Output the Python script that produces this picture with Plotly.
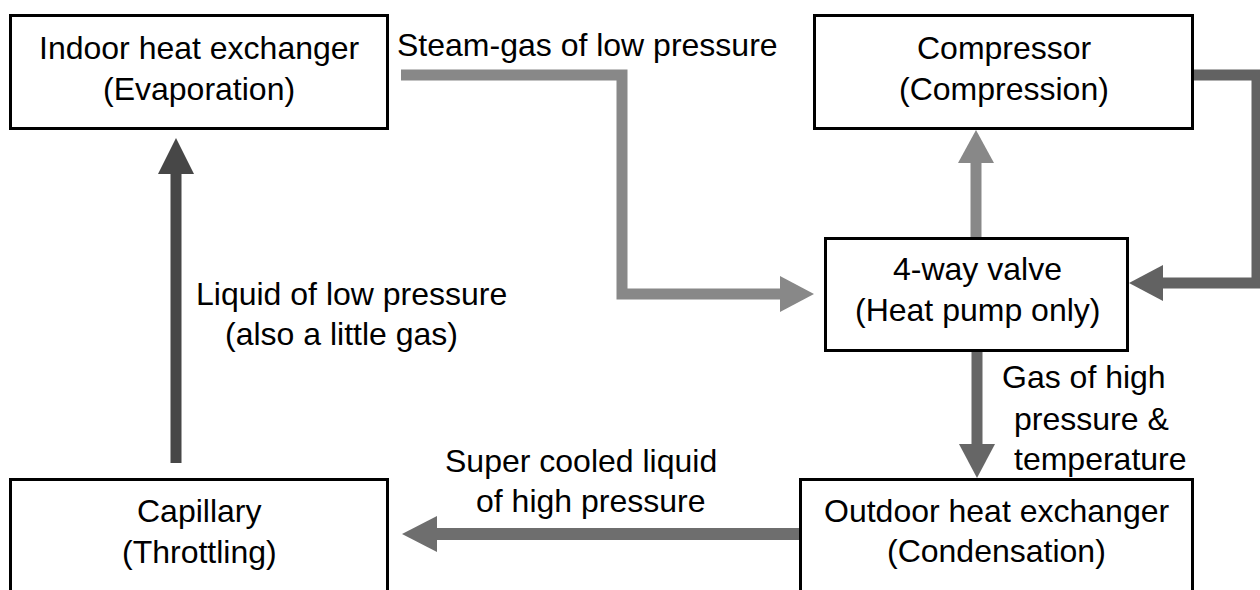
import plotly.graph_objects as go

# ---- text content (data) ----
box_titles = ["Indoor heat exchanger", "Compressor", "4-way valve", "Capillary", "Outdoor heat exchanger"]
box_subtitles = ["(Evaporation)", "(Compression)", "(Heat pump only)", "(Throttling)", "(Condensation)"]
flow_labels = [
    ["Steam-gas of low pressure"],
    ["Liquid of low pressure", "(also a little gas)"],
    ["Gas of high", "pressure &", "temperature"],
    ["Super cooled liquid", "of high pressure"],
]

# ---- layout geometry (pixels, y downward) ----
W, H = 1260, 590
FS = 32
FONT = "Liberation Sans, Arial, sans-serif"

box_rects = [  # x0, y0, x1, y1 (stroke centre lines)
    (10.5, 15.5, 387.5, 128.5),
    (814.5, 15.5, 1192.5, 128.5),
    (825.5, 238.5, 1127.5, 350.5),
    (10.5, 479.5, 387.5, 640),
    (800.5, 479.5, 1192.5, 640),
]
box_text_pos = [  # centre x, baseline line1, baseline line2
    (199, 59, 100),
    (1004, 59, 100),
    (977, 280, 321),
    (199, 522, 563),
    (996, 522, 562),
]
flow_text_pos = [
    [(587.5, 56)],
    [(351, 305), (341, 345)],
    [(1084, 388), (1091, 430), (1100, 470)],
    [(581, 472), (590, 512)],
]

# arrows: polyline points (shaft), arrow head (base centre -> tip), colour, width
arrows = [
    dict(pts=[(401, 75), (622, 75), (622, 294), (780, 294)], tip=(814, 294), color="#888888", w=11),
    dict(pts=[(976, 237), (976, 163)], tip=(976, 130), color="#888888", w=11),
    dict(pts=[(1193, 75), (1257, 75), (1257, 283), (1163, 283)], tip=(1129, 283), color="#626262", w=11),
    dict(pts=[(977, 352), (977, 444)], tip=(977, 478), color="#666666", w=11),
    dict(pts=[(800, 534), (437, 534)], tip=(402, 534), color="#6e6e6e", w=12),
    dict(pts=[(176, 463), (176, 174)], tip=(176, 138), color="#474747", w=11),
]
HEAD_HALF = 18

shapes = []
for (x0, y0, x1, y1) in box_rects:
    shapes.append(dict(type="rect", xref="x", yref="y", x0=x0, y0=y0, x1=x1, y1=y1,
                       line=dict(color="black", width=3), fillcolor="rgba(0,0,0,0)", layer="above"))

for a in arrows:
    pts = a["pts"]
    path = "M " + " L ".join(f"{x},{y}" for x, y in pts)
    shapes.append(dict(type="path", xref="x", yref="y", path=path,
                       line=dict(color=a["color"], width=a["w"]), layer="below"))
    bx, by = pts[-1]
    tx, ty = a["tip"]
    if bx == tx:  # vertical head
        p1 = (bx - HEAD_HALF, by); p2 = (bx + HEAD_HALF, by)
    else:
        p1 = (bx, by - HEAD_HALF); p2 = (bx, by + HEAD_HALF)
    hp = f"M {p1[0]},{p1[1]} L {tx},{ty} L {p2[0]},{p2[1]} Z"
    shapes.append(dict(type="path", xref="x", yref="y", path=hp,
                       line=dict(color=a["color"], width=0), fillcolor=a["color"], layer="below"))

annotations = []
def add_text(txt, cx, baseline):
    annotations.append(dict(x=cx, y=baseline - 11, xref="x", yref="y", text=txt, showarrow=False,
                            xanchor="center", yanchor="middle",
                            font=dict(family=FONT, size=FS, color="black")))

for t, s, (cx, b1, b2) in zip(box_titles, box_subtitles, box_text_pos):
    add_text(t, cx, b1)
    add_text(s, cx, b2)
for lines, poss in zip(flow_labels, flow_text_pos):
    for t, (cx, b) in zip(lines, poss):
        add_text(t, cx, b)

fig = go.Figure()
fig.add_trace(go.Scatter(x=[0, W], y=[0, H], mode="markers", marker=dict(opacity=0), hoverinfo="skip", showlegend=False))
fig.update_layout(
    width=W, height=H, margin=dict(l=0, r=0, t=0, b=0),
    paper_bgcolor="white", plot_bgcolor="white",
    xaxis=dict(range=[0, W], visible=False, fixedrange=True),
    yaxis=dict(range=[H, 0], visible=False, fixedrange=True),
    shapes=shapes, annotations=annotations, showlegend=False,
)
fig.write_html("out.html", config={"displayModeBar": False},
               post_script="document.body.style.margin='0';document.body.style.overflow='hidden';")
